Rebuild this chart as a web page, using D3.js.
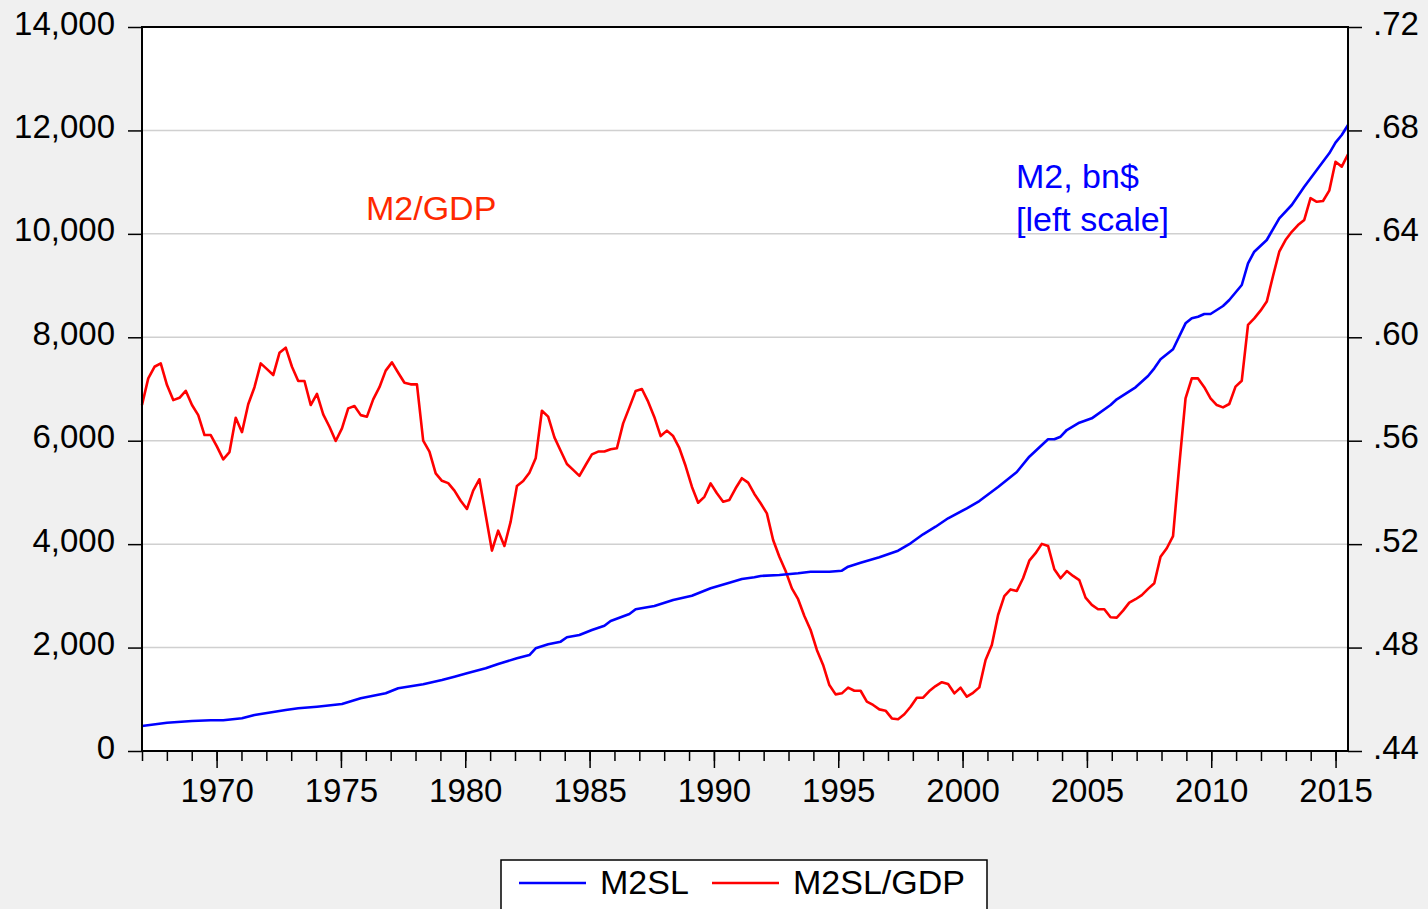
<!DOCTYPE html>
<html>
<head>
<meta charset="utf-8">
<script src="https://cdn.jsdelivr.net/npm/d3@7"></script>
<style>
  body { margin: 0; background: #f0f0f0; }
  svg { display: block; font-family: "Liberation Sans", Arial, sans-serif; }
</style>
</head>
<body>
<script>
// quarterly obs, 1967Q1 .. 2015Q2
var firstYear = 1967,
    lastYear = 2015.5;

// M2SL/GDP ratio, one value per quarter (right scale)
var ratio = [
  0.5738, 0.5841, 0.5886, 0.5899, 0.5815, 0.5757, 0.5766, 0.5793, 0.5738, 0.5699,
  0.5622, 0.5622, 0.5577, 0.5528, 0.5556, 0.5689, 0.5633, 0.5741, 0.5807, 0.5899,
  0.5877, 0.5854, 0.5940, 0.5960, 0.5886, 0.5831, 0.5831, 0.5738, 0.5781, 0.5702,
  0.5654, 0.5599, 0.5648, 0.5725, 0.5734, 0.5699, 0.5693, 0.5760, 0.5807, 0.5871,
  0.5903, 0.5863, 0.5824, 0.5818, 0.5818, 0.5600, 0.5558, 0.5474, 0.5445, 0.5436,
  0.5407, 0.5368, 0.5336, 0.5407, 0.5451, 0.5313, 0.5175, 0.5252, 0.5193, 0.5287,
  0.5425, 0.5444, 0.5476, 0.5532, 0.5716, 0.5693, 0.5613, 0.5561, 0.5510, 0.5487,
  0.5464, 0.5506, 0.5547, 0.5558, 0.5558, 0.5567, 0.5571, 0.5667, 0.5729, 0.5792,
  0.5800, 0.5751, 0.5691, 0.5618, 0.5639, 0.5618, 0.5571, 0.5502, 0.5422, 0.5360,
  0.5383, 0.5435, 0.5397, 0.5364, 0.5371, 0.5416, 0.5455, 0.5438, 0.5394, 0.5358,
  0.5319, 0.5216, 0.5151, 0.5096, 0.5029, 0.4987, 0.4922, 0.4868, 0.4791, 0.4733,
  0.4655, 0.4619, 0.4623, 0.4645, 0.4633, 0.4633, 0.4591, 0.4578, 0.4561, 0.4556,
  0.4526, 0.4523, 0.4542, 0.4571, 0.4606, 0.4606, 0.4632, 0.4651, 0.4666, 0.4659,
  0.4623, 0.4645, 0.4610, 0.4625, 0.4646, 0.4752, 0.4810, 0.4926, 0.4999, 0.5025,
  0.5019, 0.5068, 0.5136, 0.5165, 0.5201, 0.5193, 0.5103, 0.5068, 0.5096, 0.5077,
  0.5061, 0.4993, 0.4965, 0.4948, 0.4948, 0.4917, 0.4916, 0.4943, 0.4974, 0.4987,
  0.5003, 0.5027, 0.5049, 0.5151, 0.5184, 0.5231, 0.5506, 0.5764, 0.5841, 0.5841,
  0.5807, 0.5764, 0.5738, 0.5729, 0.5742, 0.5809, 0.5832, 0.6048, 0.6073, 0.6103,
  0.6138, 0.6237, 0.6331, 0.6376, 0.6408, 0.6434, 0.6454, 0.6538, 0.6524, 0.6527,
  0.6567, 0.6679, 0.6660, 0.6708
];

// M2SL, bn$ (left scale), read at these obs numbers (quarters since 1967Q1)
var m2Obs = [0, 4, 8, 11, 13, 16, 18, 21, 23, 25, 28, 32, 35, 39, 41, 45, 48, 50, 52, 55,
  57, 60, 62, 63, 65, 67, 68, 70, 72, 74, 75, 78, 79, 82, 85, 88, 91, 94, 96, 98,
  99, 102, 105, 107, 110, 112, 113, 115, 118, 121, 123, 125, 127, 129, 132, 134, 137, 140, 142, 145,
  146, 147, 148, 150, 152, 155, 156, 159, 161, 162, 163, 165, 167, 168, 169, 170, 171, 173, 174, 176,
  177, 178, 180, 182, 184, 186, 188, 190, 191, 192, 193];
var m2Vals = [483, 547, 580, 594, 594, 632, 696, 754, 793, 826, 857, 909, 1019, 1116, 1212, 1290, 1373, 1437, 1502, 1599,
  1682, 1793, 1856, 1986, 2063, 2114, 2199, 2243, 2340, 2423, 2514, 2649, 2740, 2804, 2920, 3003, 3146, 3254, 3326, 3359,
  3384, 3404, 3436, 3467, 3467, 3487, 3564, 3641, 3746, 3873, 4016, 4190, 4337, 4500, 4693, 4834, 5105, 5395, 5691, 6027,
  6027, 6078, 6207, 6348, 6433, 6691, 6801, 7033, 7251, 7400, 7574, 7768, 8270, 8367, 8398, 8450, 8450, 8605, 8721, 9011,
  9431, 9655, 9881, 10301, 10558, 10912, 11235, 11558, 11763, 11912, 12105];

var leftTicks = [0, 2000, 4000, 6000, 8000, 10000, 12000, 14000];
var rightTicks = [0.44, 0.48, 0.52, 0.56, 0.60, 0.64, 0.68, 0.72];
var yearLabels = [1970, 1975, 1980, 1985, 1990, 1995, 2000, 2005, 2010, 2015];

var width = 1428,
    height = 909;
// plot frame
var pL = 142, pR = 1348, pT = 27, pB = 751;

var svg = d3.select("body").append("svg")
    .attr("width", width)
    .attr("height", height);

svg.append("rect")
    .attr("width", width).attr("height", height)
    .attr("fill", "#f0f0f0");

// scales
var xTime = d3.scaleLinear().domain([firstYear, lastYear]).range([pL, pR]);
var xObs = d3.scaleLinear().domain([0, ratio.length - 1]).range([pL, pR]);
var yLeft = d3.scaleLinear().domain([0, 14000]).range([pB, pT]);
var yRight = d3.scaleLinear().domain([0.44, 0.72]).range([pB, pT]);

svg.append("rect")
    .attr("x", pL).attr("y", pT)
    .attr("width", pR - pL).attr("height", pB - pT)
    .attr("fill", "white");

// grid
svg.append("g")
    .selectAll("line")
    .data(leftTicks.slice(1, -1))
    .enter().append("line")
    .attr("x1", pL).attr("x2", pR)
    .attr("y1", d => yLeft(d)).attr("y2", d => yLeft(d))
    .attr("stroke", "#d0d0d0")
    .attr("stroke-width", 1.5);

// lines
var m2Line = d3.line()
    .x((d, i) => xObs(m2Obs[i]))
    .y(d => yLeft(d));
var ratioLine = d3.line()
    .x((d, i) => xObs(i))
    .y(d => yRight(d));

svg.append("path")
    .datum(ratio)
    .attr("d", ratioLine)
    .attr("fill", "none")
    .attr("stroke", "#ff0000")
    .attr("stroke-width", 2.6)
    .attr("stroke-linejoin", "round");

svg.append("path")
    .datum(m2Vals)
    .attr("d", m2Line)
    .attr("fill", "none")
    .attr("stroke", "#0000ff")
    .attr("stroke-width", 2.6)
    .attr("stroke-linejoin", "round");

// frame
svg.append("rect")
    .attr("x", pL).attr("y", pT)
    .attr("width", pR - pL).attr("height", pB - pT)
    .attr("fill", "none")
    .attr("stroke", "#000")
    .attr("stroke-width", 2);

// axes
var leftAxis = svg.append("g")
    .attr("transform", "translate(" + pL + ",0)")
    .call(d3.axisLeft(yLeft).tickValues(leftTicks).tickSize(14).tickSizeOuter(0)
        .tickPadding(13).tickFormat(d3.format(",")));

var rightAxis = svg.append("g")
    .attr("transform", "translate(" + pR + ",0)")
    .call(d3.axisRight(yRight).tickValues(rightTicks).tickSize(14).tickSizeOuter(0)
        .tickPadding(11).tickFormat(d => d3.format(".2f")(d).replace(/^0/, "")));

var minorAxis = svg.append("g")
    .attr("transform", "translate(0," + pB + ")")
    .call(d3.axisBottom(xTime).tickValues(d3.range(1967, 2016)).tickSize(10)
        .tickSizeOuter(0).tickFormat(""));

var majorAxis = svg.append("g")
    .attr("transform", "translate(0," + pB + ")")
    .call(d3.axisBottom(xTime).tickValues(yearLabels).tickSize(17)
        .tickSizeOuter(0).tickFormat(d3.format("d")));

[leftAxis, rightAxis, minorAxis, majorAxis].forEach(function (g) {
    g.select(".domain").remove();
    g.selectAll("line").attr("stroke", "#000").attr("stroke-width", 1.5);
    g.selectAll("text")
        .attr("fill", "#000")
        .style("font-size", "33px")
        .style("font-family", "'Liberation Sans', Arial, sans-serif");
});
leftAxis.selectAll("text").attr("dy", 7);
rightAxis.selectAll("text").attr("dy", 7);
majorAxis.selectAll("text").attr("y", 50).attr("dy", 1);

// annotations
svg.append("text")
    .attr("x", 366).attr("y", 220)
    .attr("fill", "#ff2800")
    .style("font-size", "34px")
    .text("M2/GDP");

var note = svg.append("text")
    .attr("fill", "#0000ff")
    .style("font-size", "34px");
note.append("tspan").attr("x", 1016).attr("y", 188).text("M2, bn$");
note.append("tspan").attr("x", 1016).attr("y", 231).text("[left scale]");

// legend
var legend = svg.append("g");
legend.append("rect")
    .attr("x", 501).attr("y", 860)
    .attr("width", 486).attr("height", 70)
    .attr("fill", "white")
    .attr("stroke", "#000")
    .attr("stroke-width", 1.5);

var items = [
    { name: "M2SL", color: "#0000ff", x: 519 },
    { name: "M2SL/GDP", color: "#ff0000", x: 712 }
];
items.forEach(function (d) {
    legend.append("line")
        .attr("x1", d.x).attr("x2", d.x + 67)
        .attr("y1", 883).attr("y2", 883)
        .attr("stroke", d.color)
        .attr("stroke-width", 2.4);
    legend.append("text")
        .attr("x", d.x + 81).attr("y", 894)
        .attr("fill", "#000")
        .style("font-size", "34px")
        .text(d.name);
});
</script>
</body>
</html>
